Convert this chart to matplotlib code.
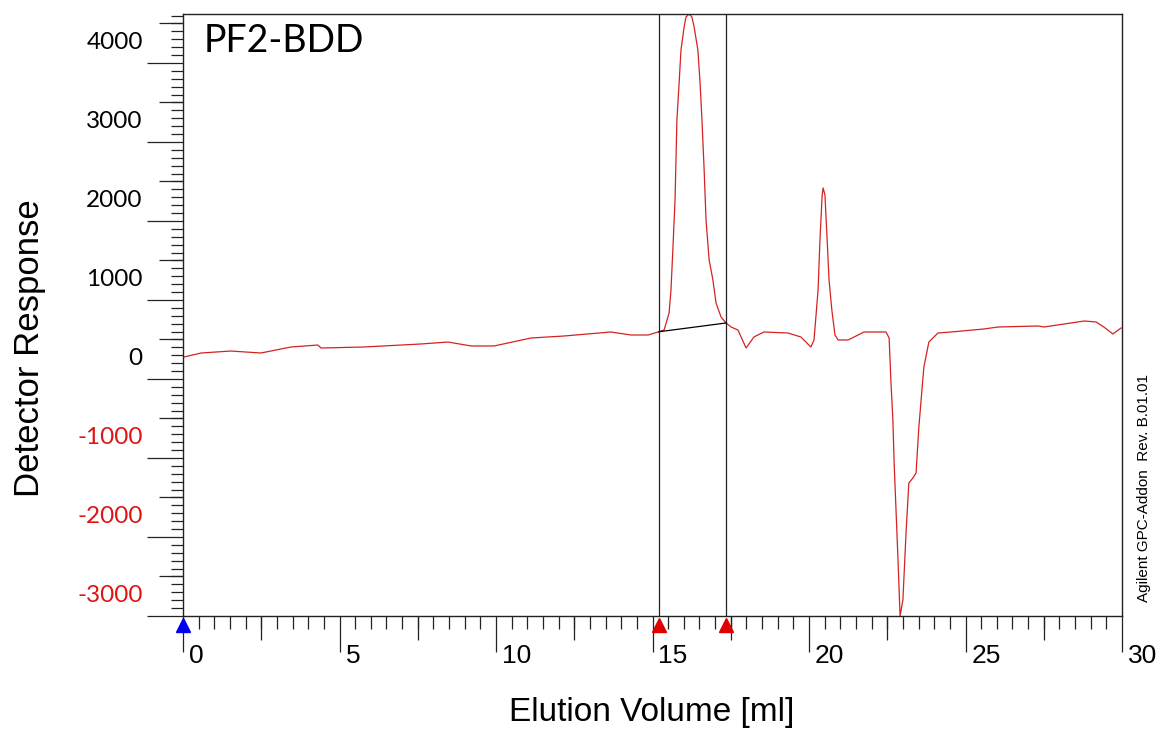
import numpy as np
import matplotlib
matplotlib.use("Agg")
import matplotlib.pyplot as plt
from matplotlib.ticker import MultipleLocator, NullLocator
from matplotlib.transforms import blended_transform_factory

# elution volume [ml] and detector response
volume = [0.03, 0.58, 1.53, 2.49, 3.45, 4.31, 4.41, 5.78, 7.60, 8.47, 9.20, 9.94,
          11.12, 12.17, 13.67, 14.31, 14.86, 15.18,
          15.37, 15.53, 15.59, 15.65, 15.72, 15.78, 15.85, 15.91, 16.01, 16.07,
          16.17, 16.26, 16.33, 16.45, 16.52, 16.58, 16.65, 16.71, 16.81, 16.93,
          17.03, 17.19,
          17.35, 17.51, 17.73, 17.99, 18.24, 18.56, 19.33, 19.74, 20.06, 20.16,
          20.29, 20.35, 20.42, 20.45, 20.51, 20.58, 20.64, 20.73, 20.83, 20.93,
          21.25, 21.76, 22.46, 22.56, 22.62, 22.68, 22.72, 22.78, 22.84, 22.91,
          23.00, 23.10, 23.19, 23.32, 23.42, 23.51, 23.67, 23.83, 24.12, 24.54,
          25.59, 26.04, 27.32, 27.51, 28.79, 29.17, 29.42, 29.71, 29.97]
response = [278, 329, 354, 329, 405, 430, 392, 405, 443, 468, 418, 418,
            519, 544, 595, 557, 557, 595,
            620, 835, 1127, 1633, 2266, 3278, 3747, 4164, 4456, 4582,
            4620, 4582, 4456, 4164, 3747, 3278, 2646, 2013, 1506, 1253,
            962, 785,
            709, 658, 620, 392, 532, 595, 582, 532, 405, 494,
            1127, 1759, 2329, 2418, 2329, 1759, 1253, 873, 557, 494,
            494, 595, 595, 519, -51, -519, -1063, -1658, -2253, -3000,
            -2797, -1949, -1316, -1253, -1190, -608, 152, 468, 582, 595,
            633, 658, 671, 658, 734, 722, 658, 570, 646]

# integration limits and markers
limits = [15.2, 17.35]
start_marker = [0.0]

y_ticks = [-3000, -2000, -1000, 0, 1000, 2000, 3000, 4000]
y_mid = [-2500, -1500, -500, 500, 1500, 2500, 3500, 4500]
x_ticks = [0, 5, 10, 15, 20, 25, 30]
x_mid = [2.5, 7.5, 12.5, 17.5, 22.5, 27.5]

fig = plt.figure(figsize=(11.6, 7.31), dpi=100, facecolor="white")
ax = fig.add_axes([183/1160, 1-616/731, (1122-183)/1160, (616-14)/731])

ax.plot(volume, response, color="#d42222", lw=0.9)
for xv in limits:
    ax.axvline(xv, color="#222222", lw=0.9)
base_y = np.interp(limits, volume, response)
ax.plot(limits, base_y, color="black", lw=0.9)

ax.set_xlim(0, 30)
ax.set_ylim(-3000, 4620)

for s in ax.spines.values():
    s.set_linewidth(1.0)
    s.set_color("#222222")

ax.set_xticks(x_ticks)
ax.set_yticks(y_ticks)
ax.xaxis.set_minor_locator(MultipleLocator(0.5))
ax.yaxis.set_minor_locator(MultipleLocator(100))
ax.tick_params(which="major", length=26, width=0.9, color="#222222",
               labelbottom=False, labelleft=False)
ax.tick_params(which="minor", length=9, width=0.9, color="#222222")

# medium ticks on the half-steps
secx = ax.secondary_xaxis("bottom")
secx.set_xticks(x_mid)
secx.xaxis.set_minor_locator(NullLocator())
secx.tick_params(length=17, width=0.9, color="#222222", labelbottom=False)
secx.spines["bottom"].set_visible(False)
secy = ax.secondary_yaxis("left")
secy.set_yticks(y_mid)
secy.yaxis.set_minor_locator(NullLocator())
secy.tick_params(length=17, width=0.9, color="#222222", labelleft=False)
secy.spines["left"].set_visible(False)

# tick labels offset from their ticks, like the Agilent software does
ty = blended_transform_factory(ax.transAxes, ax.transData)
for v in y_ticks:
    ax.annotate(str(v), xy=(0, v), xycoords=ty, xytext=(-29, 14.4),
                textcoords="offset points", ha="right", va="center",
                fontsize=17.5, family="Lato",
                color="#dd1515" if v < 0 else "black")
tx = blended_transform_factory(ax.transData, ax.transAxes)
for v in x_ticks:
    ax.annotate(str(v), xy=(v, 0), xycoords=tx, xytext=(4.3, -29),
                textcoords="offset points", ha="left", va="center",
                fontsize=19, family="Liberation Sans", color="black")

# triangle markers under the axis
ax.plot(start_marker, [-0.015], marker="^", color="#0000ee", ms=10,
        ls="none", transform=tx, clip_on=False, zorder=5)
ax.plot(limits, [-0.015, -0.015], marker="^", color="#e00000", ms=10,
        ls="none", transform=tx, clip_on=False, zorder=5)

ax.text(0.022, 0.955, "PF2-BDD", transform=ax.transAxes, fontsize=27,
        family="Lato", ha="left", va="center")

fig.text(652/1160, 1-712/731, "Elution Volume [ml]", ha="center", va="center",
         fontsize=24, family="Liberation Sans")
fig.text(30/1160, 1-348/731, "Detector Response", ha="center", va="center",
         rotation=90, fontsize=25, family="Liberation Sans")
fig.text(1144/1160, 1-602/731, "Agilent GPC-Addon  Rev. B.01.01", ha="center",
         va="bottom", rotation=90, fontsize=11, family="Liberation Sans")

fig.savefig("out.png", dpi=100, facecolor="white")
